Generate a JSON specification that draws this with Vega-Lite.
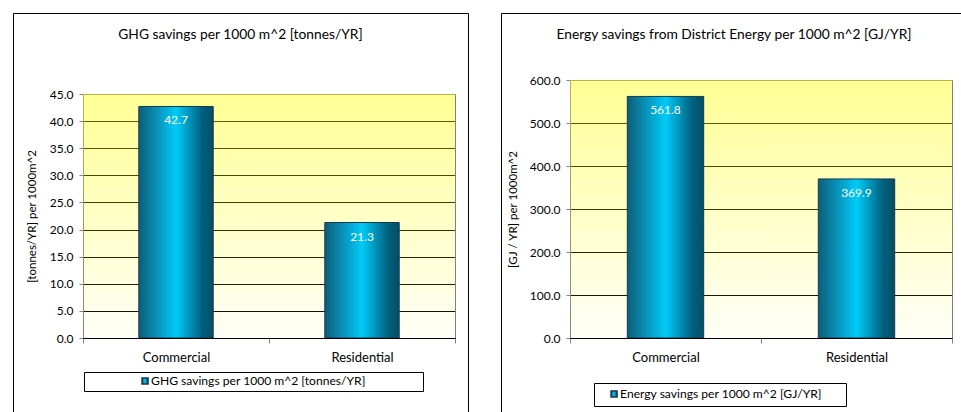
{
  "$schema": "https://vega.github.io/schema/vega-lite/v6.json",
  "padding": {"left": 12, "top": 12, "right": -8, "bottom": -6},
  "background": "white",
  "spacing": 31,
  "resolve": {"scale": {"stroke": "independent"}, "legend": {"stroke": "independent"}},
  "config": {
    "font": "Lato",
    "view": {"stroke": "#000000", "strokeWidth": 1},
    "axis": {
      "labelFontSize": 12,
      "labelColor": "#000000",
      "titleFontSize": 11.5,
      "titleFontWeight": "normal",
      "titleColor": "#000000",
      "domainColor": "#808080",
      "tickColor": "#808080"
    },
    "title": {"fontSize": 13.8, "fontWeight": "normal", "color": "#000000"},
    "legend": {"labelFontSize": 12.1, "labelColor": "#000000"}
  },
  "hconcat": [
    {
      "width": 455,
      "height": 405,
      "title": {"text": "GHG savings per 1000 m^2 [tonnes/YR]", "anchor": "middle", "frame": "group", "offset": 0, "baseline": "alphabetic", "dy": 40},
      "data": {"values": [
        {"category": "Commercial", "value": 42.7, "series": "GHG savings per 1000 m^2 [tonnes/YR]"},
        {"category": "Residential", "value": 21.3, "series": "GHG savings per 1000 m^2 [tonnes/YR]"}
      ]},
      "resolve": {"axis": {"y": "independent"}},
      "layer": [
        {
          "mark": {"type": "rect", "fill": {"gradient": "linear", "x1": 0, "y1": 0, "x2": 0, "y2": 1, "stops": [{"offset": 0, "color": "rgba(255,255,0,0.42)"}, {"offset": 1, "color": "rgba(255,255,0,0.03)"}]}},
          "encoding": {
            "x": {"field": "category", "type": "nominal", "sort": null,
              "scale": {"range": [70, 442], "paddingInner": 0, "paddingOuter": 0},
              "axis": {"orient": "bottom", "offset": -80, "title": null, "labelAngle": 0, "labelFontSize": 13, "domainColor": "#000000", "tickSize": 5, "tickBand": "extent", "labelPadding": 8, "grid": false}},
            "y": {"datum": 45, "type": "quantitative",
              "scale": {"domain": [0, 45], "range": [325, 81], "nice": false, "zero": true},
              "axis": {"orient": "left", "offset": -70, "values": [0, 5, 10, 15, 20, 25, 30, 35, 40, 45], "format": ".1f", "tickSize": 4, "labelPadding": 6, "title": "[tonnes/YR] per 1000m^2", "titlePadding": 12, "grid": true, "gridOpacity": 1, "gridColor": {"condition": {"test": "datum.value >= 45", "value": "#808080"}, "value": "#000000"}}},
            "y2": {"datum": 0}
          }
        },
        {
          "mark": {"type": "bar", "width": {"band": 0.4}, "strokeWidth": 1, "fill": {"gradient": "linear", "x1": 0, "y1": 0, "x2": 1, "y2": 0, "stops": [{"offset": 0, "color": "#0b5f7a"}, {"offset": 0.2, "color": "#0a88ad"}, {"offset": 0.5, "color": "#00cbf8"}, {"offset": 0.85, "color": "#00607e"}, {"offset": 1, "color": "#054e64"}]}},
          "encoding": {
            "x": {"field": "category", "type": "nominal", "sort": null},
            "y": {"field": "value", "type": "quantitative",
              "axis": {"orient": "right", "offset": -13, "ticks": false, "labels": false, "grid": false, "title": null, "domainColor": "#808080"}},
            "stroke": {"field": "series", "type": "nominal", "scale": {"range": ["#17384a"]},
              "legend": {"title": null, "orient": "none", "legendX": 71, "legendY": 359, "strokeColor": "#000000", "fillColor": "#ffffff", "padding": 3, "symbolType": "square", "symbolSize": 36, "symbolOffset": 52, "labelOffset": 0, "labelLimit": 0, "labelExpr": "datum.label + '\u2800\u2800\u2800\u2800\u2800\u2800'",
                "encode": {"symbols": {"update": {"fill": {"value": "#00b8e8"}, "stroke": {"value": "#17384a"}, "strokeWidth": {"value": 1}}}}}}
          }
        },
        {
          "mark": {"type": "text", "dy": 14, "color": "#ffffff", "fontSize": 12},
          "encoding": {
            "x": {"field": "category", "type": "nominal", "sort": null},
            "y": {"field": "value", "type": "quantitative", "axis": null},
            "text": {"field": "value", "type": "quantitative", "format": ".1f"}
          }
        }
      ]
    },
    {
      "width": 470,
      "height": 405,
      "title": {"text": "Energy savings from District Energy per 1000 m^2 [GJ/YR]", "anchor": "middle", "frame": "group", "offset": 0, "baseline": "alphabetic", "dy": 40, "dx": -2},
      "data": {"values": [
        {"category": "Commercial", "value": 561.8, "series": "Energy savings per 1000 m^2 [GJ/YR]"},
        {"category": "Residential", "value": 369.9, "series": "Energy savings per 1000 m^2 [GJ/YR]"}
      ]},
      "resolve": {"axis": {"y": "independent"}},
      "layer": [
        {
          "mark": {"type": "rect", "fill": {"gradient": "linear", "x1": 0, "y1": 0, "x2": 0, "y2": 1, "stops": [{"offset": 0, "color": "rgba(255,255,0,0.42)"}, {"offset": 1, "color": "rgba(255,255,0,0.03)"}]}},
          "encoding": {
            "x": {"field": "category", "type": "nominal", "sort": null,
              "scale": {"range": [69, 451], "paddingInner": 0, "paddingOuter": 0},
              "axis": {"orient": "bottom", "offset": -80, "title": null, "labelAngle": 0, "labelFontSize": 13, "domainColor": "#000000", "tickSize": 5, "tickBand": "extent", "labelPadding": 8, "grid": false}},
            "y": {"datum": 600, "type": "quantitative",
              "scale": {"domain": [0, 600], "range": [325, 67], "nice": false, "zero": true},
              "axis": {"orient": "left", "offset": -69, "values": [0, 100, 200, 300, 400, 500, 600], "format": ".1f", "tickSize": 4, "labelPadding": 6, "title": "[GJ / YR] per 1000m^2", "titlePadding": 11, "grid": true, "gridOpacity": 1, "gridColor": {"condition": {"test": "datum.value >= 600", "value": "#808080"}, "value": "#000000"}}},
            "y2": {"datum": 0}
          }
        },
        {
          "mark": {"type": "bar", "width": {"band": 0.4}, "strokeWidth": 1, "fill": {"gradient": "linear", "x1": 0, "y1": 0, "x2": 1, "y2": 0, "stops": [{"offset": 0, "color": "#0b5f7a"}, {"offset": 0.2, "color": "#0a88ad"}, {"offset": 0.5, "color": "#00cbf8"}, {"offset": 0.85, "color": "#00607e"}, {"offset": 1, "color": "#054e64"}]}},
          "encoding": {
            "x": {"field": "category", "type": "nominal", "sort": null},
            "y": {"field": "value", "type": "quantitative",
              "axis": {"orient": "right", "offset": -19, "ticks": false, "labels": false, "grid": false, "title": null, "domainColor": "#808080"}},
            "stroke": {"field": "series", "type": "nominal", "scale": {"range": ["#17384a"]},
              "legend": {"title": null, "orient": "none", "legendX": 93, "legendY": 370, "strokeColor": "#000000", "fillColor": "#ffffff", "padding": 5, "symbolType": "square", "symbolSize": 36, "symbolOffset": 9, "labelOffset": 0, "labelLimit": 0, "labelExpr": "datum.label + '\u2800\u2800'",
                "encode": {"symbols": {"update": {"fill": {"value": "#00b8e8"}, "stroke": {"value": "#17384a"}, "strokeWidth": {"value": 1}}}}}}
          }
        },
        {
          "mark": {"type": "text", "dy": 14, "color": "#ffffff", "fontSize": 12},
          "encoding": {
            "x": {"field": "category", "type": "nominal", "sort": null},
            "y": {"field": "value", "type": "quantitative", "axis": null},
            "text": {"field": "value", "type": "quantitative", "format": ".1f"}
          }
        }
      ]
    }
  ]
}
